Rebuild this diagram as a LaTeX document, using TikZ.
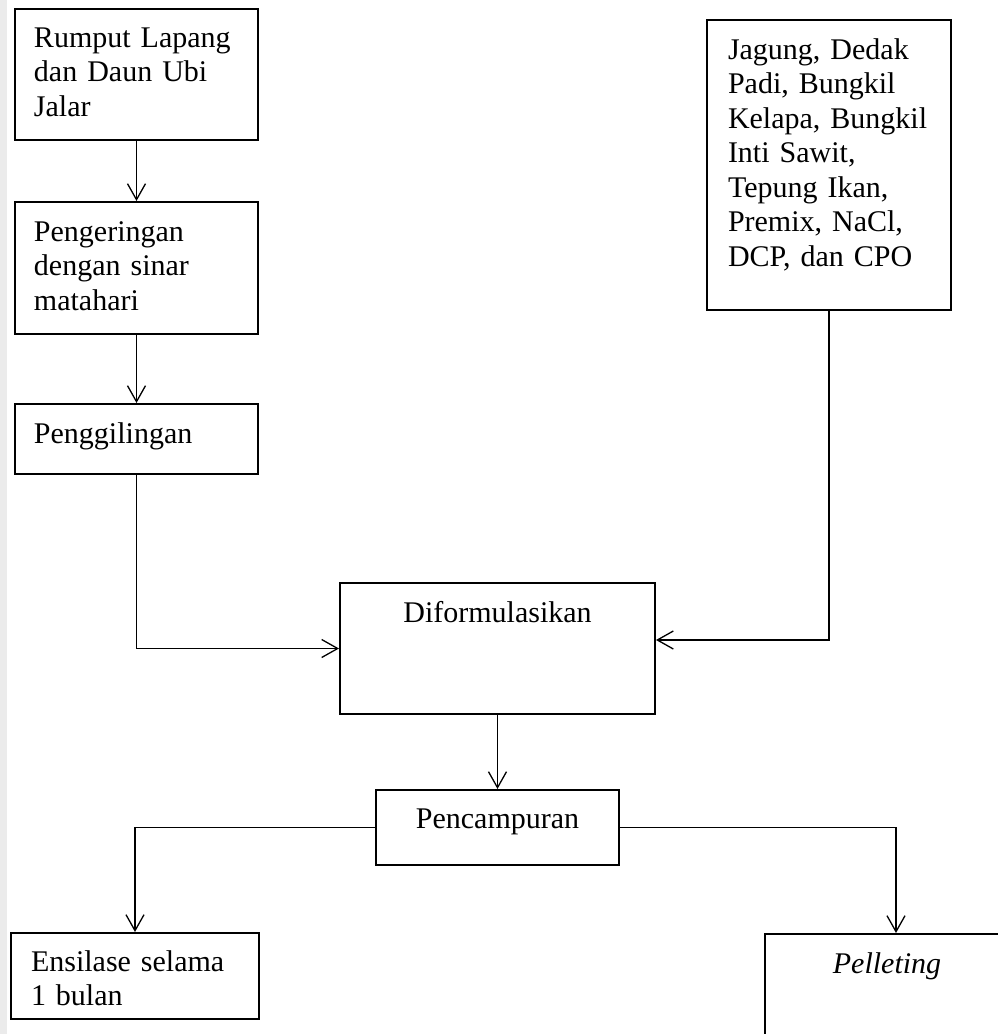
\documentclass[tikz,border=0pt]{standalone}
\usepackage{fontspec}
\setmainfont{Liberation Serif}
\usetikzlibrary{arrows.meta}

\begin{document}
\begin{tikzpicture}
	[x=1pt,y=-1pt,
	proses/.style={draw,line width=2pt,inner xsep=19pt,inner ysep=0pt,anchor=north west,font=\fontsize{30}{34.5}\selectfont},
	kiri/.style={proses,align=left},
	tengah/.style={proses,align=center},
	panah/.style={-{Straight Barb[length=16pt,width=18pt]},line width=1.3pt}]

	\useasboundingbox (0,0) rectangle (998,1034);
	\clip (0,0) rectangle (998,1034);
	\fill[black!8] (0,0) rectangle (7,1034);

	\node[kiri,text width=205pt,text height=38pt,text depth=93pt] (rumput) at (14,8) {Rumput Lapang\\dan Daun Ubi\\Jalar};
	\node[kiri,text width=205pt,text height=39pt,text depth=93pt] (kering) at (14,201) {Pengeringan\\dengan sinar\\matahari};
	\node[kiri,text width=205pt,text height=39pt,text depth=31pt] (giling) at (14,403) {Penggilingan};
	\node[kiri,inner xsep=21pt,text width=202pt,text height=39pt,text depth=251pt] (bahan) at (706,19) {Jagung, Dedak\\Padi, Bungkil\\Kelapa, Bungkil\\Inti Sawit,\\Tepung Ikan,\\Premix, NaCl,\\DCP, dan CPO};

	\node[tengah,minimum width=315pt,text height=39pt,text depth=92pt] (formulasi) at (339,582) {Diformulasikan};
	\node[tengah,minimum width=243pt,text height=38pt,text depth=37pt] (campur) at (375,789) {Pencampuran};

	\node[kiri,inner xsep=20pt,text width=208pt,text height=38pt,text depth=48pt] (ensilase) at (10,932) {Ensilase selama\\1 bulan};
	\node[tengah,minimum width=244pt,text height=39pt,text depth=92pt] (pellet) at (764,933) {\textit{Pelleting}};

	%\draw[panah] (formulasi.south) -- (campur.north);
	\draw[panah] (rumput) -- (kering);
	\draw[panah] (kering) -- (giling);
	\draw[panah] (giling) |- (formulasi);
	\draw[panah] (bahan) |- ([yshift=8.5pt]formulasi.east);
	\draw[panah] (formulasi) -- (campur);
	\draw[panah] (campur) -| (ensilase);
	\draw[panah] (campur) -| ([xshift=9pt]pellet.north);

\end{tikzpicture}
\end{document}
